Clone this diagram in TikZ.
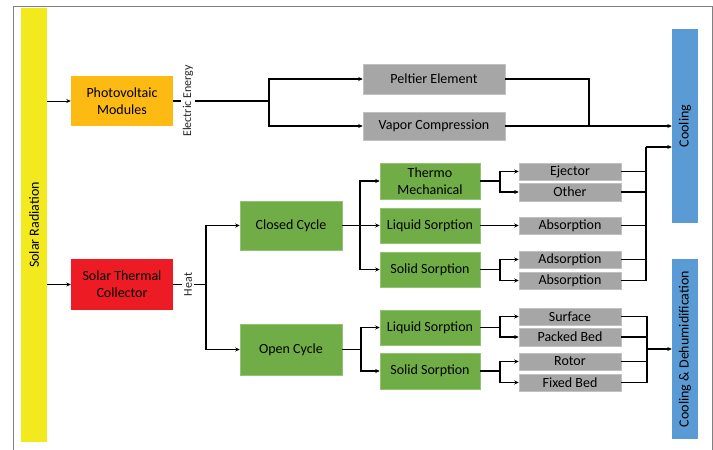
\documentclass[tikz,border=0pt]{standalone}
\usepackage{fontspec}
\setmainfont{Carlito}
\usetikzlibrary{arrows.meta}
\definecolor{cyel}{HTML}{F2EA1C}
\definecolor{corg}{HTML}{FDBA12}
\definecolor{cred}{HTML}{ED1C24}
\definecolor{cgrn}{HTML}{70AD47}
\definecolor{cgry}{HTML}{A6A6A6}
\definecolor{cblu}{HTML}{5B9BD5}
\definecolor{cfrm}{HTML}{808080}
\begin{document}
\begin{tikzpicture}[x=1pt,y=-1pt,
  every node/.style={font=\fontsize{14}{17}\selectfont, inner sep=0pt, align=center, text=black},
  gbox/.style={fill=cgrn, draw=cgrn!75!white, line width=0.5pt, minimum width=100pt},
  sbox/.style={fill=cgry, draw=cgry!70!white, line width=0.5pt, minimum width=102pt},
  vbar/.style={rotate=90, minimum width=#1, minimum height=26pt},
  lbl/.style={rotate=90, fill=white, inner sep=2pt, font=\fontsize{12}{14}\selectfont, text=black!85},
  conn/.style={line width=1.3pt, black},
  arr/.style={conn, -{Stealth[length=4.5pt,width=4pt]}},
  thinarr/.style={line width=0.9pt, black, -{Stealth[length=4.5pt,width=4pt]}}
]
\useasboundingbox (0,0) rectangle (713,450);
\draw[cfrm, line width=0.8pt] (13,460) -- (13,6) -- (712,6) -- (712,460);

% left column
\node[vbar=434pt, fill=cyel] (solar) at (34,225) {Solar Radiation};
\node[fill=corg, minimum width=102pt, minimum height=50pt] (pv) at (122,101) {Photovoltaic\\Modules};
\node[fill=cred, minimum width=102pt, minimum height=51pt] (stc) at (122,284.5) {Solar Thermal\\Collector};

% right bars
\node[vbar=194pt, fill=cblu] (cool) at (685,126) {Cooling};
\node[vbar=180pt, fill=cblu] (cd) at (685,349) {Cooling \& Dehumidification};

% electric branch
\node[sbox, minimum width=142pt, minimum height=30pt] (pel) at (434,79) {Peltier Element};
\node[sbox, minimum width=142pt, minimum height=28pt] (vap) at (434,126) {Vapor Compression};

% thermal branch
\node[gbox, minimum width=102pt, minimum height=49pt] (closed) at (291,225.5) {Closed Cycle};
\node[gbox, minimum width=102pt, minimum height=51pt] (open) at (291,349.5) {Open Cycle};

\node[gbox, minimum height=36pt] (thermo) at (430,181) {Thermo\\Mechanical};
\node[gbox, minimum height=35pt] (liqc) at (430,225.5) {Liquid Sorption};
\node[gbox, minimum height=35pt] (solc) at (430,269.5) {Solid Sorption};
\node[gbox, minimum height=35pt] (liqo) at (430,327.5) {Liquid Sorption};
\node[gbox, minimum height=36pt] (solo) at (430,371) {Solid Sorption};

\node[sbox, minimum height=17pt] (ej) at (570,171.5) {Ejector};
\node[sbox, minimum height=18pt] (oth) at (570,192) {Other};
\node[sbox, minimum height=17pt] (absa) at (570,225.5) {Absorption};
\node[sbox, minimum height=17pt] (ads) at (570,259.5) {Adsorption};
\node[sbox, minimum height=17pt] (absb) at (570,280.5) {Absorption};
\node[sbox, minimum height=17pt] (surf) at (570,316.5) {Surface};
\node[sbox, minimum height=18pt] (pack) at (570,337) {Packed Bed};
\node[sbox, minimum height=17pt] (rot) at (570,361.5) {Rotor};
\node[sbox, minimum height=17pt] (fix) at (570,382.5) {Fixed Bed};

% labels
\node[lbl] (ee) at (188,101) {Electric Energy};
\node[lbl] (heat) at (188,284.5) {Heat};

% coordinates
\coordinate (eb) at (269,101);
\coordinate (pj) at (589,126);
\coordinate (hb) at (206,284.5);
\coordinate (cb) at (360,225.5);
\coordinate (ob) at (361,349.5);
\coordinate (tb) at (500,181);
\coordinate (sb) at (500,269.5);
\coordinate (lb) at (500,327.5);
\coordinate (rb) at (500,371);
\coordinate (ctop) at (646,147);
\coordinate (cdj) at (647,349);

% connectors
\draw[thinarr] (solar.south |- pv.west) -- (pv.west);
\draw[thinarr] (solar.south |- stc.west) -- (stc.west);

\draw[conn] (pv.east) -- (ee);
\draw[conn] (ee) -- (eb);
\draw[arr] (eb) |- (pel.west);
\draw[arr] (eb) |- (vap.west);
\draw[conn] (pel.east) -| (pj);
\draw[arr] (vap.east) -- (cool.north |- vap.east);

\draw[conn] (stc.east) -- (heat);
\draw[conn] (heat) -- (hb);
\draw[arr] (hb) |- (closed.west);
\draw[arr] (hb) |- (open.west);

\draw[conn] (closed.east) -- (cb);
\draw[arr] (cb) |- (thermo.west);
\draw[arr] (cb) -- (liqc.west);
\draw[arr] (cb) |- (solc.west);

\draw[conn] (open.east) -- (ob);
\draw[arr] (ob) |- (liqo.west);
\draw[arr] (ob) |- (solo.west);

\draw[conn] (thermo.east) -- (tb);
\draw[arr] (tb) |- (ej.west);
\draw[arr] (tb) |- (oth.west);
\draw[arr] (liqc.east) -- (absa.west);
\draw[conn] (solc.east) -- (sb);
\draw[arr] (sb) |- (ads.west);
\draw[arr] (sb) |- (absb.west);

\draw[conn] (liqo.east) -- (lb);
\draw[arr] (lb) |- (surf.west);
\draw[arr] (lb) |- (pack.west);
\draw[conn] (solo.east) -- (rb);
\draw[arr] (rb) |- (rot.west);
\draw[arr] (rb) |- (fix.west);

% collectors to Cooling
\draw[conn] (absb.east) -| (ctop);
\draw[arr] (ctop) -- (cool.north |- ctop);
\draw[conn] (ej.east) -- (ej.east -| ctop);
\draw[conn] (oth.east) -- (oth.east -| ctop);
\draw[conn] (absa.east) -- (absa.east -| ctop);
\draw[conn] (ads.east) -- (ads.east -| ctop);

% collectors to Cooling & Dehumidification
\draw[conn] (surf.east) -| (cdj);
\draw[conn] (fix.east) -| (cdj);
\draw[conn] (pack.east) -- (pack.east -| cdj);
\draw[conn] (rot.east) -- (rot.east -| cdj);
\draw[arr] (cdj) -- (cd.north |- cdj);
\end{tikzpicture}
\end{document}
